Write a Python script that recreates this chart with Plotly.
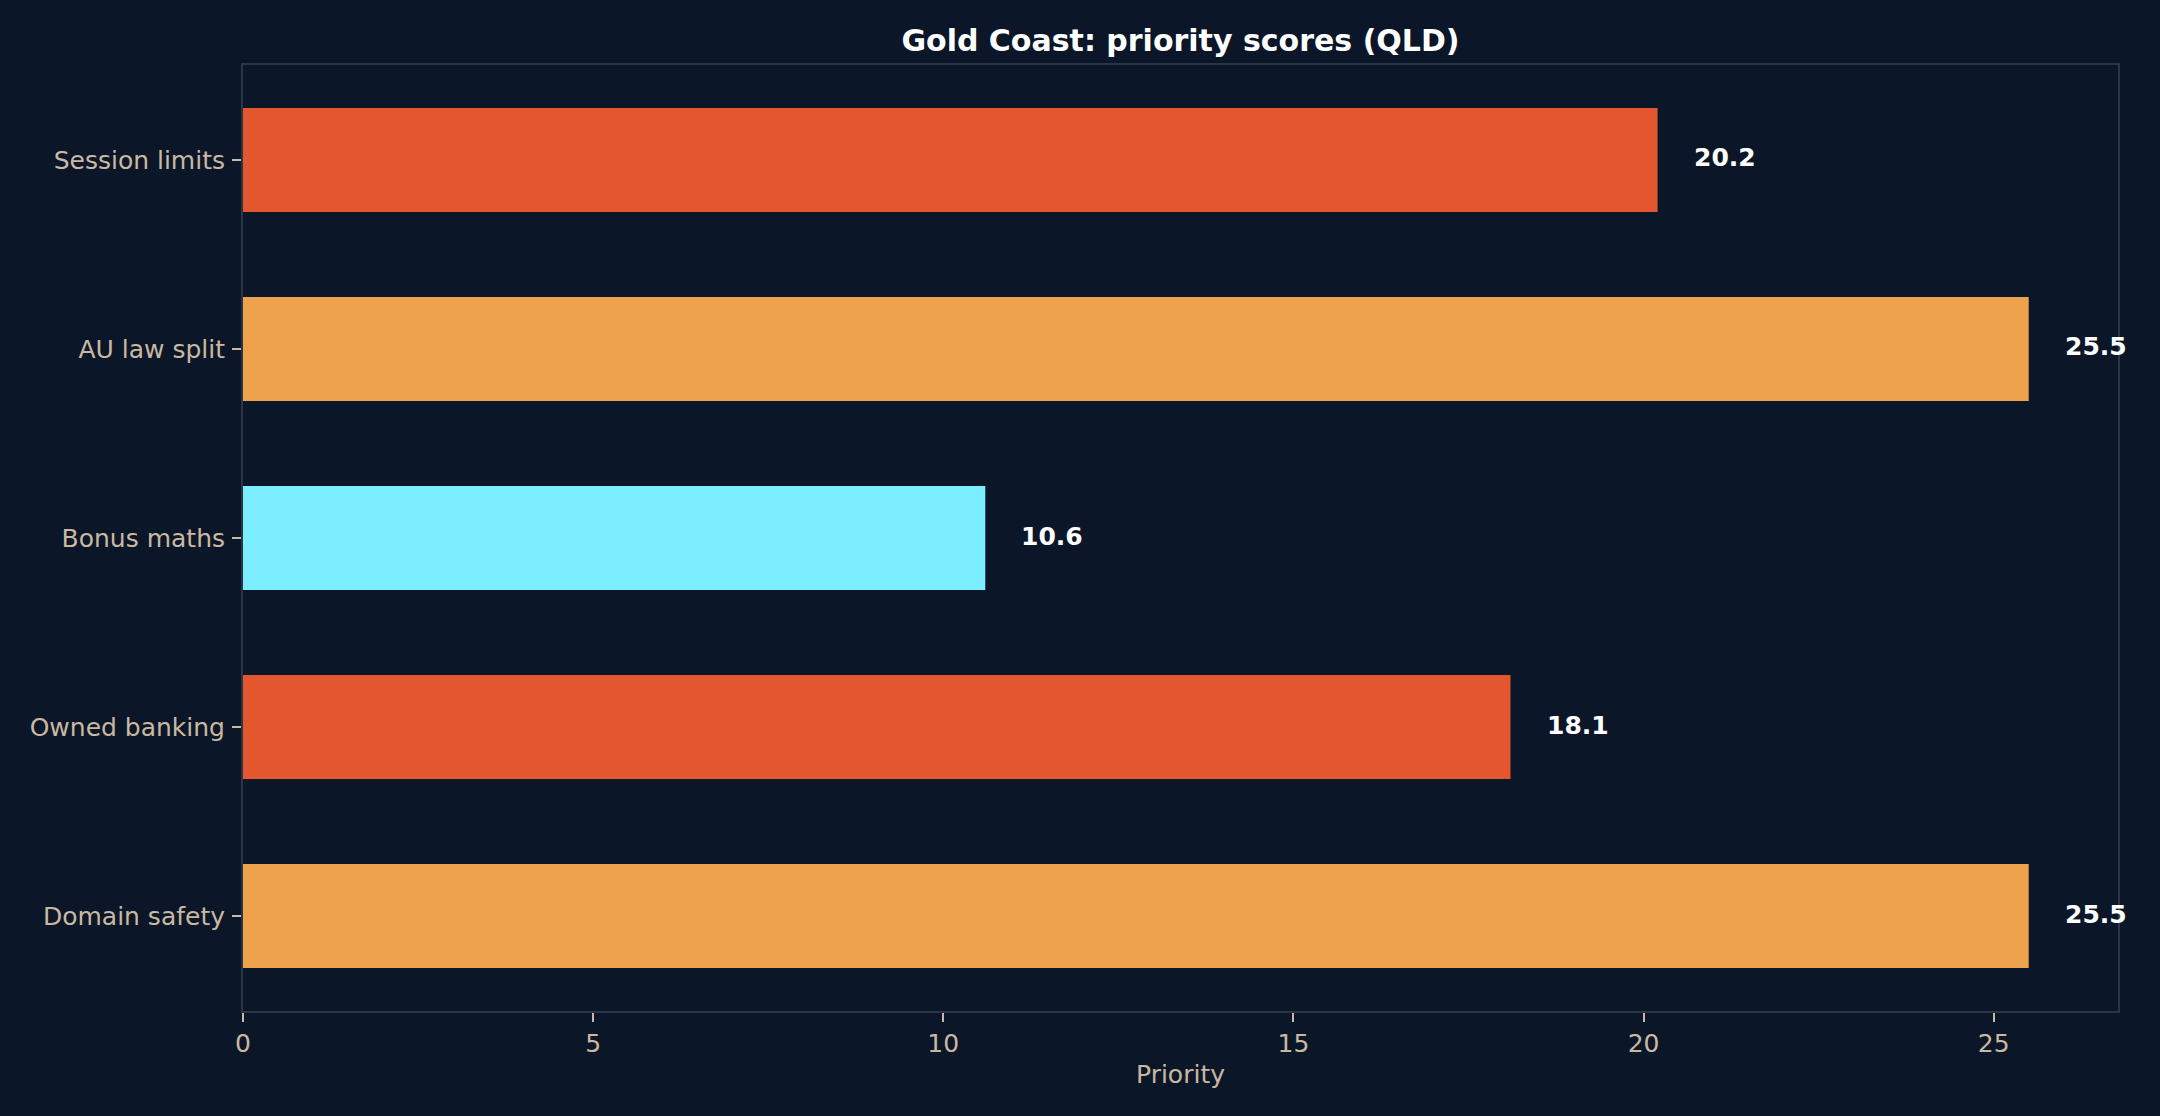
import plotly.graph_objects as go

categories = ['Session limits', 'AU law split', 'Bonus maths', 'Owned banking', 'Domain safety']
scores = [20.2, 25.5, 10.6, 18.1, 25.5]
bar_colors = ['#E4572E', '#EFA24E', '#7BEEFF', '#E4572E', '#EFA24E']

BG = '#0B1628'
TICK = '#C9B9A3'
FRAME = '#2B3549'

fig = go.Figure(
    go.Bar(
        x=scores,
        y=categories,
        orientation='h',
        width=0.55,
        marker=dict(color=bar_colors, line=dict(width=0)),
        hoverinfo='x+y'
    )
)

# value labels just past the bar ends
for cat, val in zip(categories, scores):
    fig.add_annotation(
        x=val, y=cat, text=f'<b>{val:.1f}</b>',
        showarrow=False, xanchor='left', yanchor='middle',
        xshift=34, yshift=2,
        font=dict(family='DejaVu Sans', size=25, color='#FFFFFF')
    )

fig.update_layout(
    width=2160, height=1116,
    paper_bgcolor=BG, plot_bgcolor=BG,
    margin=dict(l=243, r=42, t=65, b=105),
    showlegend=False,
    font=dict(family='DejaVu Sans', size=25, color=TICK),
    title=dict(
        text='<b>Gold Coast: priority scores (QLD)</b>',
        x=0.5, xref='paper', xanchor='center',
        y=1 - 40 / 1116, yref='container', yanchor='middle',
        font=dict(family='DejaVu Sans', size=30, color='#FFFFFF')
    ),
    xaxis=dict(
        range=[0, 25.5 * 1.05],
        tickvals=[0, 5, 10, 15, 20, 25],
        showgrid=False, zeroline=False,
        showline=True, mirror=True, linecolor=FRAME, linewidth=2,
        ticks='outside', ticklen=9, tickwidth=1.5, tickcolor=TICK,
        tickfont=dict(size=25, color=TICK),
        title=dict(text='Priority', font=dict(size=25, color=TICK), standoff=8)
    ),
    yaxis=dict(
        type='category',
        range=[4.5025, -0.5025],
        showgrid=False, zeroline=False,
        showline=True, mirror=True, linecolor=FRAME, linewidth=2,
        ticks='outside', ticklen=9, tickwidth=1.5, tickcolor=TICK,
        tickfont=dict(size=25, color=TICK),
        ticklabelstandoff=2
    )
)

# drop the page's default body margin so the figure sits flush in the window
fig.write_html(
    'out.html',
    config={'displayModeBar': False},
    post_script="document.body.style.margin='0';document.body.style.background='#0B1628';"
)
